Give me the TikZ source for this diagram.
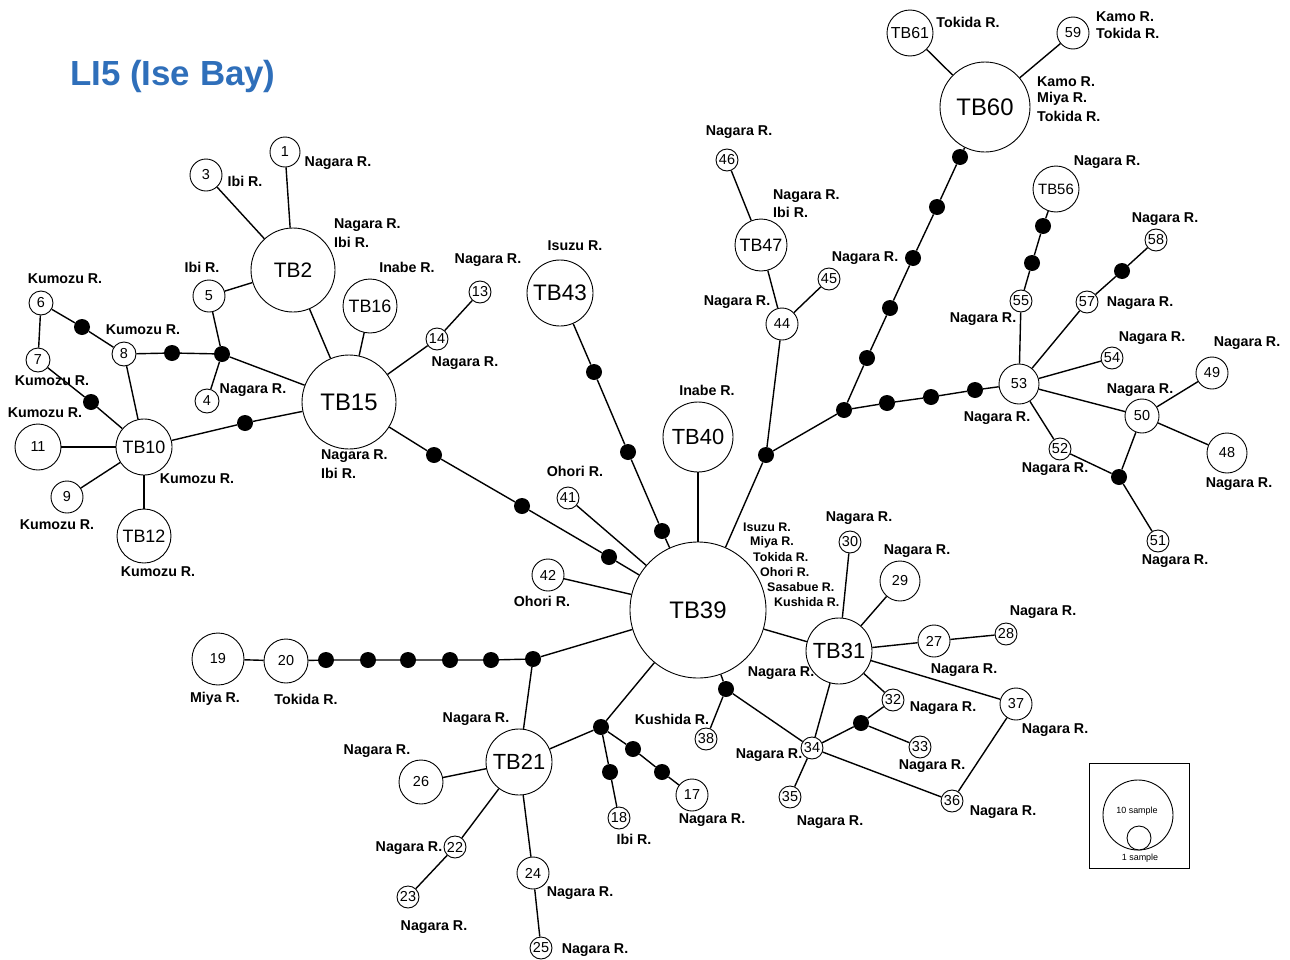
\documentclass[tikz,border=0pt]{standalone}
\usepackage{fontspec}
\setmainfont{Liberation Sans}
\newcommand\fsz[1]{\fontsize{#1}{#1}\selectfont}
\definecolor{titleblue}{RGB}{47,111,186}
\begin{document}
\begin{tikzpicture}[x=1bp,y=-1bp,
  hap/.style={circle,draw,fill=white,inner sep=0pt,line width=0.9bp,minimum size=#1bp,font=\fsz{14.5}},
  mv/.style={circle,fill=black,inner sep=0pt,minimum size=16bp},
  lbl/.style={font=\fsz{14.3}\bfseries,inner sep=0pt},
  lblw/.style={font=\fsz{14.3}\bfseries,inner sep=0pt,anchor=west},
  slbl/.style={font=\fsz{12.5}\bfseries,inner sep=0pt,anchor=west},
  edge/.style={line width=1.4bp}]
\useasboundingbox (0,0) rectangle (1290,960);

\node[font=\fsz{35}\bfseries,text=titleblue,anchor=west,inner sep=0pt] (title) at (70,76) {LI5 (Ise Bay)};

% main haplotypes
\node[hap=136,font=\fsz{24}] (n39) at (698,610) {TB39};
\node[hap=94,font=\fsz{24}] (n15) at (349,402) {TB15};
\node[hap=84,font=\fsz{21}] (n2) at (293,270) {TB2};
\node[hap=56,font=\fsz{18}] (n10) at (144,447) {TB10};
\node[hap=54,font=\fsz{18}] (n12) at (144,536) {TB12};
\node[hap=54,font=\fsz{18}] (n16) at (370,306) {TB16};
\node[hap=66,font=\fsz{22.5}] (n43) at (560,293) {TB43};
\node[hap=70,font=\fsz{22}] (n40) at (698,437) {TB40};
\node[hap=52,font=\fsz{18}] (n47) at (761,245) {TB47};
\node[hap=90,font=\fsz{24}] (n60) at (985,107) {TB60};
\node[hap=46,font=\fsz{16}] (n61) at (910,33) {TB61};
\node[hap=46,font=\fsz{15}] (n56) at (1056,189) {TB56};
\node[hap=66,font=\fsz{22}] (n31) at (839,651) {TB31};
\node[hap=66,font=\fsz{22}] (n21) at (519,762) {TB21};

% numbered haplotypes
\node[hap=30] (n1) at (285,152) {1};
\node[hap=32] (n3) at (206,175) {3};
\node[hap=24] (n4) at (207,401) {4};
\node[hap=32] (n5) at (209,296) {5};
\node[hap=24] (n6) at (41,303) {6};
\node[hap=24] (n7) at (38,360) {7};
\node[hap=24] (n8) at (124,354) {8};
\node[hap=32] (n9) at (67,497) {9};
\node[hap=46] (n11) at (38,447) {11};
\node[hap=22] (n13) at (480,292) {13};
\node[hap=22] (n14) at (437,339) {14};
\node[hap=32] (n17) at (692,795) {17};
\node[hap=22] (n18) at (619,818) {18};
\node[hap=52] (n19) at (218,659) {19};
\node[hap=44] (n20) at (286,661) {20};
\node[hap=22] (n22) at (455,847) {22};
\node[hap=22] (n23) at (408,897) {23};
\node[hap=32] (n24) at (533,873) {24};
\node[hap=22] (n25) at (541,948) {25};
\node[hap=44] (n26) at (421,782) {26};
\node[hap=32] (n27) at (934,641) {27};
\node[hap=22] (n28) at (1006,634) {28};
\node[hap=40] (n29) at (900,581) {29};
\node[hap=22] (n30) at (850,542) {30};
\node[hap=22] (n32) at (893,700) {32};
\node[hap=22] (n33) at (920,747) {33};
\node[hap=22] (n34) at (812,748) {34};
\node[hap=22] (n35) at (790,797) {35};
\node[hap=22] (n36) at (952,801) {36};
\node[hap=32] (n37) at (1016,704) {37};
\node[hap=22] (n38) at (706,739) {38};
\node[hap=22] (n41) at (568,498) {41};
\node[hap=32] (n42) at (548,575) {42};
\node[hap=32] (n44) at (782,324) {44};
\node[hap=22] (n45) at (829,279) {45};
\node[hap=22] (n46) at (727,160) {46};
\node[hap=40] (n48) at (1227,453) {48};
\node[hap=32] (n49) at (1212,373) {49};
\node[hap=34] (n50) at (1142,416) {50};
\node[hap=22] (n51) at (1158,541) {51};
\node[hap=22] (n52) at (1060,449) {52};
\node[hap=40] (n53) at (1019,384) {53};
\node[hap=22] (n54) at (1112,358) {54};
\node[hap=22] (n55) at (1021,301) {55};
\node[hap=22] (n57) at (1087,302) {57};
\node[hap=22] (n58) at (1156,240) {58};
\node[hap=32] (n59) at (1073,33) {59};

% median vectors / mutation steps
\node[mv] (a1) at (82,327) {};
\node[mv] (a2) at (91,402) {};
\node[mv] (a3) at (172,353) {};
\node[mv] (j1) at (222,354) {};
\node[mv] (a4) at (245,423) {};
\node[mv] (b1) at (434,455) {};
\node[mv] (b2) at (522,506) {};
\node[mv] (b3) at (609,557) {};
\node[mv] (c1) at (594,372) {};
\node[mv] (c2) at (628,452) {};
\node[mv] (c3) at (662,531) {};
\node[mv] (j2) at (766,455) {};
\node[mv] (j3) at (844,410) {};
\node[mv] (e1) at (867,358) {};
\node[mv] (e2) at (890,308) {};
\node[mv] (e3) at (913,258) {};
\node[mv] (e4) at (937,207) {};
\node[mv] (e5) at (960,157) {};
\node[mv] (f1) at (887,403) {};
\node[mv] (f2) at (931,397) {};
\node[mv] (f3) at (975,390) {};
\node[mv] (g1) at (1032,263) {};
\node[mv] (g2) at (1043,226) {};
\node[mv] (h1) at (1122,271) {};
\node[mv] (j6) at (1119,477) {};
\node[mv] (d8) at (726,689) {};
\node[mv] (j7) at (861,723) {};
\node[mv] (j4) at (601,727) {};
\node[mv] (k1) at (610,772) {};
\node[mv] (k2) at (633,749) {};
\node[mv] (k3) at (662,772) {};
\node[mv] (j5) at (533,659) {};
\node[mv] (m1) at (491,660) {};
\node[mv] (m2) at (450,660) {};
\node[mv] (m3) at (408,660) {};
\node[mv] (m4) at (368,660) {};
\node[mv] (m5) at (326,660) {};

% connectors
\begin{scope}[edge]
\draw (n6) -- (a1) -- (n8);
\draw (n6) -- (n7);
\draw (n7) -- (a2) -- (n10);
\draw (n8) -- (n10);
\draw (n8) -- (a3) -- (j1);
\draw (j1) -- (n5);
\draw (j1) -- (n4);
\draw (j1) -- (n15);
\draw (n5) -- (n2);
\draw (n3) -- (n2);
\draw (n1) -- (n2);
\draw (n2) -- (n15);
\draw (n16) -- (n15);
\draw (n15) -- (n14) -- (n13);
\draw (n10) -- (a4) -- (n15);
\draw (n10) -- (n11);
\draw (n10) -- (n9);
\draw (n10) -- (n12);
\draw (n15) -- (b1) -- (b2) -- (b3) -- (n39);
\draw (n43) -- (c1) -- (c2) -- (c3) -- (n39);
\draw (n41) -- (n39);
\draw (n42) -- (n39);
\draw (n40) -- (n39);
\draw (n39) -- (j2) -- (n44) -- (n47) -- (n46);
\draw (n44) -- (n45);
\draw (j2) -- (j3) -- (e1) -- (e2) -- (e3) -- (e4) -- (e5) -- (n60);
\draw (n60) -- (n61);
\draw (n60) -- (n59);
\draw (j3) -- (f1) -- (f2) -- (f3) -- (n53);
\draw (n53) -- (n55) -- (g1) -- (g2) -- (n56);
\draw (n53) -- (n57) -- (h1) -- (n58);
\draw (n53) -- (n54);
\draw (n53) -- (n50);
\draw (n50) -- (n49);
\draw (n50) -- (n48);
\draw (n50) -- (j6);
\draw (n53) -- (n52) -- (j6) -- (n51);
\draw (n39) -- (n31);
\draw (n31) -- (n30);
\draw (n31) -- (n29);
\draw (n31) -- (n27) -- (n28);
\draw (n31) -- (n37) -- (n36);
\draw (n31) -- (n32) -- (j7);
\draw (j7) -- (n33);
\draw (j7) -- (n34);
\draw (n31) -- (n34);
\draw (n39) -- (d8) -- (n34);
\draw (d8) -- (n38);
\draw (n34) -- (n35);
\draw (n34) -- (n36);
\draw (n39) -- (j4) -- (n21);
\draw (j4) -- (k1) -- (n18);
\draw (j4) -- (k2) -- (k3) -- (n17);
\draw (n39) -- (j5) -- (n21);
\draw (j5) -- (m1) -- (m2) -- (m3) -- (m4) -- (m5) -- (n20) -- (n19);
\draw (n21) -- (n26);
\draw (n21) -- (n22) -- (n23);
\draw (n21) -- (n24) -- (n25);
\end{scope}

% river labels
\node[lbl] (l1) at (65,279) {Kumozu R.};
\node[lbl] (l2) at (143,330) {Kumozu R.};
\node[lbl] (l3) at (52,381) {Kumozu R.};
\node[lbl] (l4) at (45,413) {Kumozu R.};
\node[lbl] (l5) at (197,479) {Kumozu R.};
\node[lbl] (l6) at (57,525) {Kumozu R.};
\node[lbl] (l7) at (158,572) {Kumozu R.};
\node[lbl] (l8) at (202,267) {Ibi R.};
\node[lbl] (l9) at (253,390) {Nagara R.};
\node[lbl] (l10) at (245,181) {Ibi R.};
\node[lbl] (l11) at (338,163) {Nagara R.};
\node[lblw] (l12) at (334,225) {Nagara R.};
\node[lblw] (l13) at (334,242) {Ibi R.};
\node[lbl] (l14) at (407,267) {Inabe R.};
\node[lbl] (l15) at (488,260) {Nagara R.};
\node[lbl] (l16) at (465,363) {Nagara R.};
\node[lblw] (l17) at (321,456) {Nagara R.};
\node[lblw] (l18) at (321,473) {Ibi R.};
\node[lbl] (l19) at (575,246) {Isuzu R.};
\node[lbl] (l20) at (707,390) {Inabe R.};
\node[lbl] (l21) at (575,471) {Ohori R.};
\node[lbl] (l22) at (542,601) {Ohori R.};
\node[lbl] (l23) at (739,132) {Nagara R.};
\node[lblw] (l24) at (773,196) {Nagara R.};
\node[lblw] (l25) at (773,212) {Ibi R.};
\node[lbl] (l26) at (865,258) {Nagara R.};
\node[lbl] (l27) at (737,302) {Nagara R.};
\node[slbl] (s1) at (743,527) {Isuzu R.};
\node[slbl] (s2) at (750,542) {Miya R.};
\node[slbl] (s3) at (753,557) {Tokida R.};
\node[slbl] (s4) at (760,572) {Ohori R.};
\node[slbl] (s5) at (767,587) {Sasabue R.};
\node[slbl] (s6) at (774,602) {Kushida R.};
\node[lbl] (l28) at (968,22) {Tokida R.};
\node[lblw] (l29) at (1096,17) {Kamo R.};
\node[lblw] (l30) at (1096,33) {Tokida R.};
\node[lblw] (l31) at (1037,82) {Kamo R.};
\node[lblw] (l32) at (1037,99) {Miya R.};
\node[lblw] (l33) at (1037,116) {Tokida R.};
\node[lbl] (l34) at (1107,162) {Nagara R.};
\node[lbl] (l35) at (1165,219) {Nagara R.};
\node[lbl] (l36) at (1140,303) {Nagara R.};
\node[lbl] (l37) at (983,319) {Nagara R.};
\node[lbl] (l38) at (1152,338) {Nagara R.};
\node[lbl] (l39) at (1247,343) {Nagara R.};
\node[lbl] (l40) at (1140,390) {Nagara R.};
\node[lbl] (l41) at (997,418) {Nagara R.};
\node[lbl] (l42) at (1055,469) {Nagara R.};
\node[lbl] (l43) at (1239,484) {Nagara R.};
\node[lbl] (l44) at (1175,561) {Nagara R.};
\node[lbl] (l45) at (859,518) {Nagara R.};
\node[lbl] (l46) at (917,551) {Nagara R.};
\node[lbl] (l47) at (1043,612) {Nagara R.};
\node[lbl] (l48) at (964,670) {Nagara R.};
\node[lbl] (l49) at (781,673) {Nagara R.};
\node[lbl] (l50) at (943,708) {Nagara R.};
\node[lbl] (l51) at (1055,730) {Nagara R.};
\node[lbl] (l52) at (769,755) {Nagara R.};
\node[lbl] (l53) at (932,766) {Nagara R.};
\node[lbl] (l54) at (830,822) {Nagara R.};
\node[lbl] (l55) at (1003,812) {Nagara R.};
\node[lbl] (l56) at (672,719) {Kushida R.};
\node[lbl] (l57) at (712,820) {Nagara R.};
\node[lbl] (l58) at (634,839) {Ibi R.};
\node[lbl] (l59) at (476,719) {Nagara R.};
\node[lbl] (l60) at (377,751) {Nagara R.};
\node[lbl] (l61) at (409,848) {Nagara R.};
\node[lbl] (l62) at (434,927) {Nagara R.};
\node[lbl] (l63) at (580,893) {Nagara R.};
\node[lbl] (l64) at (595,950) {Nagara R.};
\node[lbl] (l65) at (215,699) {Miya R.};
\node[lbl] (l66) at (306,699) {Tokida R.};

% legend
\node[draw,line width=1bp,minimum width=100bp,minimum height=105bp,inner sep=0pt] (legend) at (1139,816) {};
\node[hap=70] (lg10) at (1138,815) {};
\node[hap=24] (lg1) at (1139,838) {};
\node[font=\fsz{9},inner sep=0pt] (lt10) at (1137,811) {10 sample};
\node[font=\fsz{9},inner sep=0pt] (lt1) at (1140,858) {1 sample};
\end{tikzpicture}
\end{document}
